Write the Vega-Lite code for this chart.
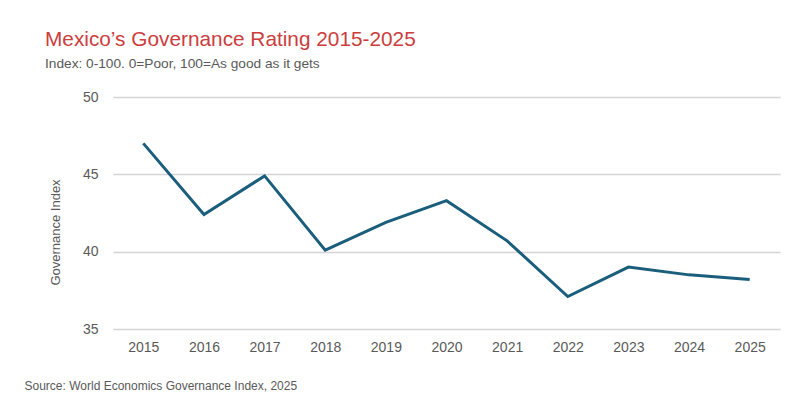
{
  "$schema": "https://vega.github.io/schema/vega-lite/v6.json",
  "autosize": {"type": "none"},
  "width": 667,
  "height": 232,
  "padding": {"left": 113, "top": 97, "right": 20, "bottom": 71},
  "background": "white",
  "config": {
    "font": "Liberation Sans",
    "view": {"stroke": null}
  },
  "title": {
    "text": "Mexico’s Governance Rating 2015-2025",
    "subtitle": "Index: 0-100. 0=Poor, 100=As good as it gets",
    "anchor": "start",
    "frame": "group",
    "dx": -68,
    "offset": 18,
    "font": "Liberation Sans",
    "fontSize": 20.8,
    "fontWeight": "normal",
    "color": "#cc3d3d",
    "subtitleFont": "Liberation Sans",
    "subtitleFontSize": 13.7,
    "subtitleColor": "#595959",
    "subtitlePadding": 7
  },
  "data": {
    "values": [
      {"year": "2015", "index": 47.0},
      {"year": "2016", "index": 42.4},
      {"year": "2017", "index": 44.9},
      {"year": "2018", "index": 40.1},
      {"year": "2019", "index": 41.9},
      {"year": "2020", "index": 43.3},
      {"year": "2021", "index": 40.7},
      {"year": "2022", "index": 37.1},
      {"year": "2023", "index": 39.0},
      {"year": "2024", "index": 38.5},
      {"year": "2025", "index": 38.2}
    ]
  },
  "mark": {"type": "line", "color": "#1a5e7c", "strokeWidth": 3},
  "encoding": {
    "x": {
      "field": "year",
      "type": "ordinal",
      "scale": {"type": "point", "padding": 0.5},
      "axis": {
        "title": "Source: World Economics Governance Index, 2025",
        "titleAnchor": "start",
        "titleAlign": "left",
        "titleBaseline": "alphabetic",
        "titleX": -89,
        "titleY": 60,
        "titleFont": "Liberation Sans",
        "titleFontSize": 12,
        "titleFontWeight": "normal",
        "titleColor": "#595959",
        "labelAngle": 0,
        "labelFontSize": 14,
        "labelColor": "#595959",
        "labelPadding": 11,
        "domain": false,
        "ticks": false,
        "grid": false
      }
    },
    "y": {
      "field": "index",
      "type": "quantitative",
      "scale": {"domain": [35, 50], "nice": false, "zero": false},
      "axis": {
        "title": "Governance Index",
        "titleFont": "Liberation Sans",
        "titleFontSize": 13,
        "titleFontWeight": "normal",
        "titleColor": "#595959",
        "titlePadding": 20,
        "titleY": 135,
        "values": [35, 40, 45, 50],
        "labelFontSize": 14,
        "labelColor": "#595959",
        "labelPadding": 15,
        "domain": false,
        "ticks": false,
        "grid": true,
        "gridColor": "#d4d4d4",
        "gridWidth": 1.5
      }
    }
  }
}
